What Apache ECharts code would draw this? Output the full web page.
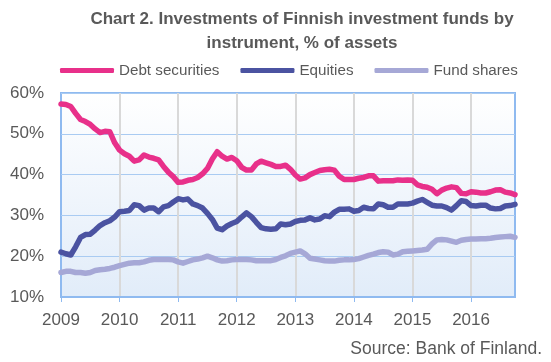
<!DOCTYPE html>
<html>
<head>
<meta charset="utf-8">
<script src="https://cdn.jsdelivr.net/npm/echarts@6/dist/echarts.min.js"></script>
<style>
html,body{margin:0;padding:0;background:#fff;}
#chart{width:551px;height:362px;}
</style>
</head>
<body>
<div id="chart"></div>
<script>
const startYear = 2009;
const monthCount = 94;
const yearLabels = ['2009','2010','2011','2012','2013','2014','2015','2016'];
const yTicks = [10, 20, 30, 40, 50, 60];

const debtSecurities = [
57.3,57.2,56.7,55.0,53.5,53.0,52.3,51.2,50.3,50.6,50.5,47.8,
46.0,45.1,44.5,43.3,43.6,44.8,44.3,44.0,43.6,42.0,40.6,39.5,
38.1,38.2,38.6,38.8,39.3,40.2,41.5,43.8,45.6,44.5,43.8,44.2,
43.4,41.8,41.1,41.1,42.6,43.3,42.9,42.5,42.0,42.0,42.3,41.3,
39.9,38.9,39.2,40.0,40.5,41.0,41.2,41.3,41.1,39.6,38.8,38.8,
38.8,39.1,39.3,39.7,39.7,38.4,38.5,38.5,38.5,38.7,38.6,38.7,
38.6,37.5,37.1,36.9,36.4,35.3,36.2,36.7,37.0,36.8,35.4,35.3,
35.8,35.7,35.5,35.5,35.8,36.2,36.3,35.7,35.5,35.1];

const equities = [
21.0,20.6,20.3,22.3,24.6,25.3,25.4,26.4,27.5,28.2,28.7,29.6,
30.9,31.0,31.2,32.6,32.4,31.3,31.8,31.8,30.9,32.1,32.4,33.3,
34.1,33.8,34.0,32.8,32.4,31.8,30.5,29.0,26.9,26.5,27.4,28.0,
28.5,29.6,30.6,29.7,28.3,27.0,26.7,26.6,26.7,27.9,27.7,27.9,
28.5,28.8,28.9,29.4,28.9,29.1,29.9,29.7,30.8,31.5,31.5,31.6,
31.0,31.2,32.0,31.7,31.6,32.8,32.6,32.0,32.0,32.8,32.8,32.8,
33.0,33.5,33.9,33.2,32.5,32.3,32.3,31.9,31.3,32.4,33.6,33.4,
32.4,32.3,32.5,32.5,31.8,31.6,31.7,32.3,32.4,32.7];

const fundShares = [
16.0,16.3,16.3,16.0,16.0,15.8,16.0,16.5,16.7,16.8,17.0,17.3,
17.7,18.0,18.3,18.4,18.4,18.6,19.0,19.2,19.2,19.2,19.2,19.1,
18.6,18.3,18.7,19.1,19.3,19.6,20.0,19.6,19.1,18.8,18.9,19.1,
19.2,19.2,19.2,19.1,18.9,18.9,18.9,18.9,19.2,19.7,20.1,20.7,
21.0,21.3,20.6,19.5,19.3,19.1,18.9,18.8,18.8,19.0,19.1,19.1,
19.2,19.4,19.8,20.2,20.5,20.9,21.1,21.0,20.3,20.5,21.1,21.2,
21.3,21.4,21.5,21.7,23.0,24.0,24.1,24.0,23.7,23.4,23.9,24.1,
24.2,24.2,24.3,24.3,24.4,24.6,24.7,24.8,24.9,24.6];

const seriesNames = ['Debt securities','Equities','Fund shares'];
const seriesColors = ['#e8308a','#4b53a1','#a6a8d6'];

const categories = [];
for (let i = 0; i < monthCount; i++) {
  const y = startYear + Math.floor(i / 12);
  const m = (i % 12) + 1;
  categories.push(y + '-' + (m < 10 ? '0' + m : m));
}

const FONT = '"Liberation Sans", Arial, sans-serif';
const chart = echarts.init(document.getElementById('chart'), null, {renderer: 'canvas'});

const mk = (name, data, color) => ({
  name: name, type: 'line', data: data, showSymbol: false, symbol: 'none',
  lineStyle: {color: color, width: 5.5, cap: 'round', join: 'round'},
  itemStyle: {color: color}, animation: false
});

chart.setOption({
  animation: false,
  textStyle: {fontFamily: FONT},
  graphic: [
    {type: 'text', x: 302, y: 7, style: {
      text: 'Chart 2. Investments of Finnish investment funds by\ninstrument, % of assets',
      font: 'bold 17px ' + FONT, fill: '#595959', textAlign: 'center', lineHeight: 24}},
    {type: 'text', x: 542, y: 340, style: {
      text: 'Source: Bank of Finland.', font: '17.5px ' + FONT, fill: '#595959', textAlign: 'right'}}
  ],
  legend: {
    left: 55, top: 58, itemWidth: 54, itemHeight: 5, itemGap: 21,
    icon: 'roundRect',
    textStyle: {color: '#595959', fontSize: 15.2, fontFamily: FONT},
    data: seriesNames
  },
  grid: {
    left: 61, right: 36, top: 93, bottom: 65,
    show: true, borderColor: '#8fbaf0', borderWidth: 2,
    backgroundColor: new echarts.graphic.LinearGradient(0,0,0,1,[
      {offset: 0, color: '#ffffff'}, {offset: 1, color: '#e1ecf9'}])
  },
  xAxis: {
    type: 'category', data: categories, boundaryGap: false,
    axisLine: {show: true, lineStyle: {color: '#8fbaf0', width: 2}},
    axisTick: {show: true, length: 5, interval: (i) => i % 12 === 0, lineStyle: {color: '#8fbaf0', width: 1}},
    axisLabel: {
      interval: (i) => i % 12 === 0, margin: 15,
      color: '#595959', fontSize: 17, fontFamily: FONT,
      formatter: (v, i) => yearLabels[Math.floor(i / 12)] || ''
    },
    splitLine: {show: true, interval: (i) => i % 12 === 0 && i > 0, lineStyle: {color: '#d9d9d9', width: 2}}
  },
  yAxis: {
    type: 'value', min: yTicks[0], max: yTicks[yTicks.length-1], interval: 10,
    axisLine: {show: false}, axisTick: {show: false},
    axisLabel: {margin: 17, color: '#595959', fontSize: 17, fontFamily: FONT, formatter: '{value}%'},
    splitLine: {show: true, lineStyle: {color: '#a9cbf2', width: 1}}
  },
  series: [
    mk(seriesNames[0], debtSecurities, seriesColors[0]),
    mk(seriesNames[1], equities, seriesColors[1]),
    mk(seriesNames[2], fundShares, seriesColors[2])
  ]
});
</script>
</body>
</html>
